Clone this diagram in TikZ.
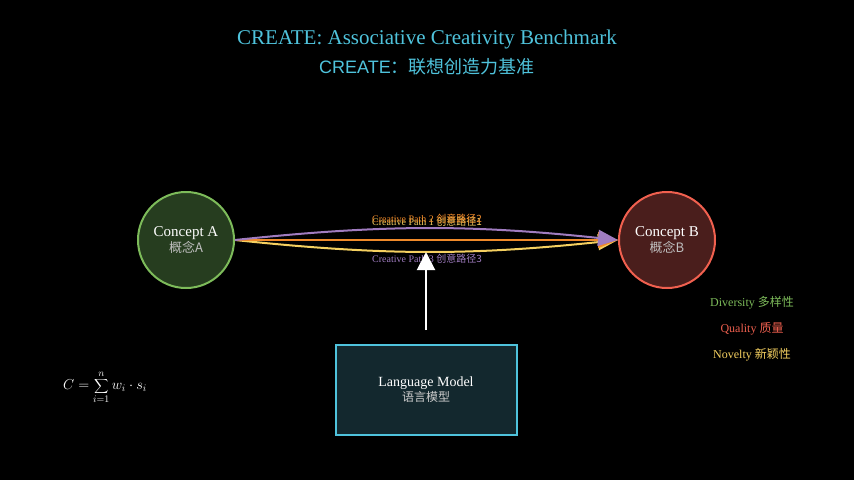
\documentclass[tikz,border=0pt]{standalone}
\usepackage{fontspec}
\setmainfont{Liberation Serif}
\setsansfont{Liberation Sans}
\newfontfamily\cjk{Noto Sans CJK SC}
\usetikzlibrary{arrows.meta}
\definecolor{titlecyan}{HTML}{4FC3DC}
\definecolor{agreen}{HTML}{7DBB5A}
\definecolor{afill}{HTML}{263D1F}
\definecolor{bred}{HTML}{F0604F}
\definecolor{bfill}{HTML}{4A1E1C}
\definecolor{boxfill}{HTML}{13282E}
\definecolor{ppurple}{HTML}{A07CC0}
\definecolor{porange}{HTML}{F08A2A}
\definecolor{pyellow}{HTML}{F5D060}
\tikzset{
  concept/.style={circle, minimum size=96pt, line width=2pt, align=center, text=white, font=\fontsize{15}{15}\selectfont},
  pathlbl/.style={font=\fontsize{10}{10}\selectfont},
  path/.style={line width=2pt, -{Triangle[length=20pt,width=16pt]}},
  legend/.style={font=\fontsize{12}{12}\selectfont},
}
\begin{document}
\begin{tikzpicture}[x=1pt,y=-1pt]
  \fill[black] (0,0) rectangle (854,480);
  \node[text=titlecyan, font=\fontsize{21}{21}\selectfont] (title) at (427,39) {CREATE: Associative Creativity Benchmark};
  \node[text=titlecyan, font=\fontsize{18}{18}\selectfont\sffamily] (subtitle) at (427,67) {CREATE{\cjk ：联想创造力基准}};

  \node[concept, draw=agreen, fill=afill] (a) at (186,240) {Concept A\\[1pt]{\cjk\fontsize{13}{13}\selectfont\color{white!75!black}概念A}};
  \node[concept, draw=bred, fill=bfill] (b) at (667,240) {Concept B\\[1pt]{\cjk\fontsize{13}{13}\selectfont\color{white!75!black}概念B}};

  \draw[path, pyellow] (a.east) to[bend right=6] (b.west);
  \draw[path, porange] (a.east) -- (b.west);
  \draw[path, ppurple] (a.east) to[bend left=6] (b.west);
  \node[pathlbl, text=pyellow] (l1) at (427,222) {Creative Path 1 {\cjk 创意路径1}};
  \node[pathlbl, text=porange] (l2) at (427,219) {Creative Path 2 {\cjk 创意路径2}};
  \node[pathlbl, text=ppurple] (l3) at (427,259) {Creative Path 3 {\cjk 创意路径3}};

  \node[draw=titlecyan, fill=boxfill, line width=2pt, minimum width=181pt, minimum height=90pt, align=center, text=white, font=\fontsize{14}{14}\selectfont] (lm) at (426,390) {Language Model\\[1pt]{\cjk\fontsize{12}{12}\selectfont\color{white!80!black}语言模型}};
  \coordinate (lmtop) at (426,330);
  \draw[white, line width=2pt, -{Triangle[length=18pt,width=18pt]}] (lmtop) -- (426,252);

  \node[legend, text=agreen] (div) at (752,303) {Diversity {\cjk 多样性}};
  \node[legend, text=bred] (qual) at (752,329) {Quality {\cjk 质量}};
  \node[legend, text=pyellow] (nov) at (752,355) {Novelty {\cjk 新颖性}};

  \node[text=white, font=\fontsize{14}{14}\selectfont] (formula) at (105,387) {$\displaystyle C=\sum_{i=1}^{n} w_i\cdot s_i$};
\end{tikzpicture}
\end{document}
